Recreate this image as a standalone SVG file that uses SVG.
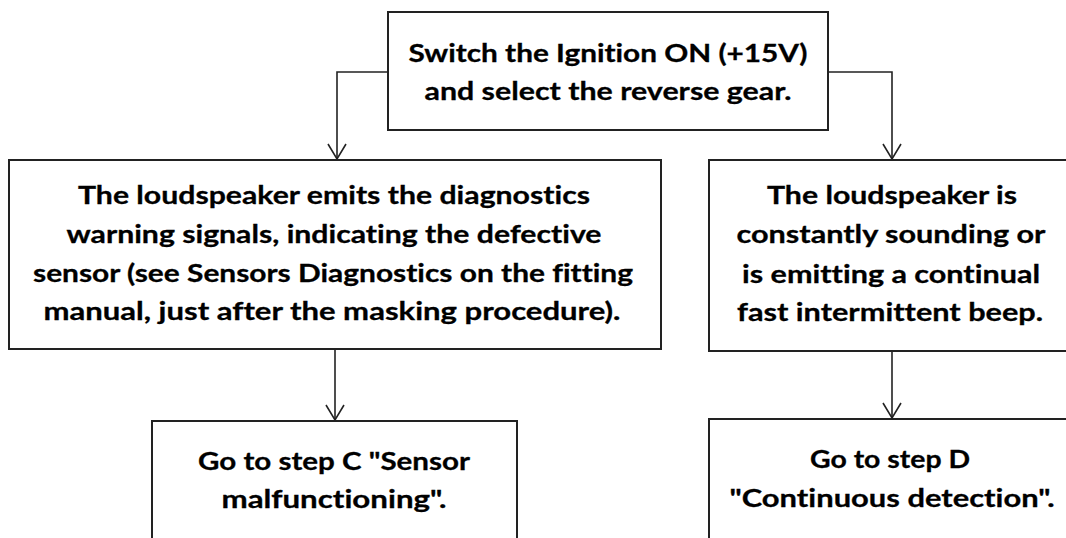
<svg xmlns="http://www.w3.org/2000/svg" width="1066" height="538" viewBox="0 0 1066 538">
  <style>
    .box { fill: #ffffff; stroke: #222222; stroke-width: 2; }
    .conn { fill: none; stroke: #222222; stroke-width: 1.6; }
    .lbl { font-family: Lato, "Open Sans", "Liberation Sans", sans-serif; font-weight: bold; font-size: 25px; fill: #000000; text-anchor: middle; font-variant-ligatures: none; stroke: #000000; stroke-width: 0.3; }
  </style>
  <defs>
    <marker id="vhead" markerUnits="userSpaceOnUse" viewBox="-18 -12 20 24" refX="0" refY="0" markerWidth="20" markerHeight="24" orient="auto">
      <path d="M -15 -9 L 0 0 L -15 9" fill="none" stroke="#222222" stroke-width="1.6"/>
    </marker>
  </defs>
  <rect width="1066" height="538" fill="#ffffff"/>

  <!-- connectors -->
  <g id="connectors">
    <path class="conn" d="M 388 72 L 337 72 L 337 159" marker-end="url(#vhead)"/>
    <path class="conn" d="M 828 72 L 892 72 L 892 159" marker-end="url(#vhead)"/>
    <path class="conn" d="M 335 349 L 335 420" marker-end="url(#vhead)"/>
    <path class="conn" d="M 892 351 L 892 418" marker-end="url(#vhead)"/>
  </g>

  <g id="start">
    <rect class="box" x="388" y="12" width="440" height="118"/>
    <text class="lbl" x="608" y="62" textLength="399" lengthAdjust="spacingAndGlyphs">Switch the Ignition ON (+15V)</text>
    <text class="lbl" x="608" y="100" textLength="367" lengthAdjust="spacingAndGlyphs">and select the reverse gear.</text>
  </g>

  <g id="warning">
    <rect class="box" x="9" y="160" width="652" height="189"/>
    <text class="lbl" x="334" y="204" textLength="512" lengthAdjust="spacingAndGlyphs">The loudspeaker emits the diagnostics</text>
    <text class="lbl" x="334" y="243" textLength="535" lengthAdjust="spacingAndGlyphs">warning signals, indicating the defective</text>
    <text class="lbl" x="333" y="282" textLength="600" lengthAdjust="spacingAndGlyphs">sensor (see Sensors Diagnostics on the fitting</text>
    <text class="lbl" x="332" y="320" textLength="577" lengthAdjust="spacingAndGlyphs">manual, just after the masking procedure).</text>
  </g>

  <g id="continuous">
    <rect class="box" x="709" y="160" width="372" height="191"/>
    <text class="lbl" x="892" y="204" textLength="250" lengthAdjust="spacingAndGlyphs">The loudspeaker is</text>
    <text class="lbl" x="891" y="243" textLength="309" lengthAdjust="spacingAndGlyphs">constantly sounding or</text>
    <text class="lbl" x="891" y="283" textLength="298" lengthAdjust="spacingAndGlyphs">is emitting a continual</text>
    <text class="lbl" x="890" y="321" textLength="306" lengthAdjust="spacingAndGlyphs">fast intermittent beep.</text>
  </g>

  <g id="stepC">
    <rect class="box" x="152" y="421" width="365" height="140"/>
    <text class="lbl" x="334" y="470" textLength="272" lengthAdjust="spacingAndGlyphs">Go to step C "Sensor</text>
    <text class="lbl" x="334" y="508" textLength="225" lengthAdjust="spacingAndGlyphs">malfunctioning".</text>
  </g>

  <g id="stepD">
    <rect class="box" x="709" y="419" width="372" height="140"/>
    <text class="lbl" x="890" y="468" textLength="160" lengthAdjust="spacingAndGlyphs">Go to step D</text>
    <text class="lbl" x="892" y="507" textLength="325" lengthAdjust="spacingAndGlyphs">"Continuous detection".</text>
  </g>
</svg>
